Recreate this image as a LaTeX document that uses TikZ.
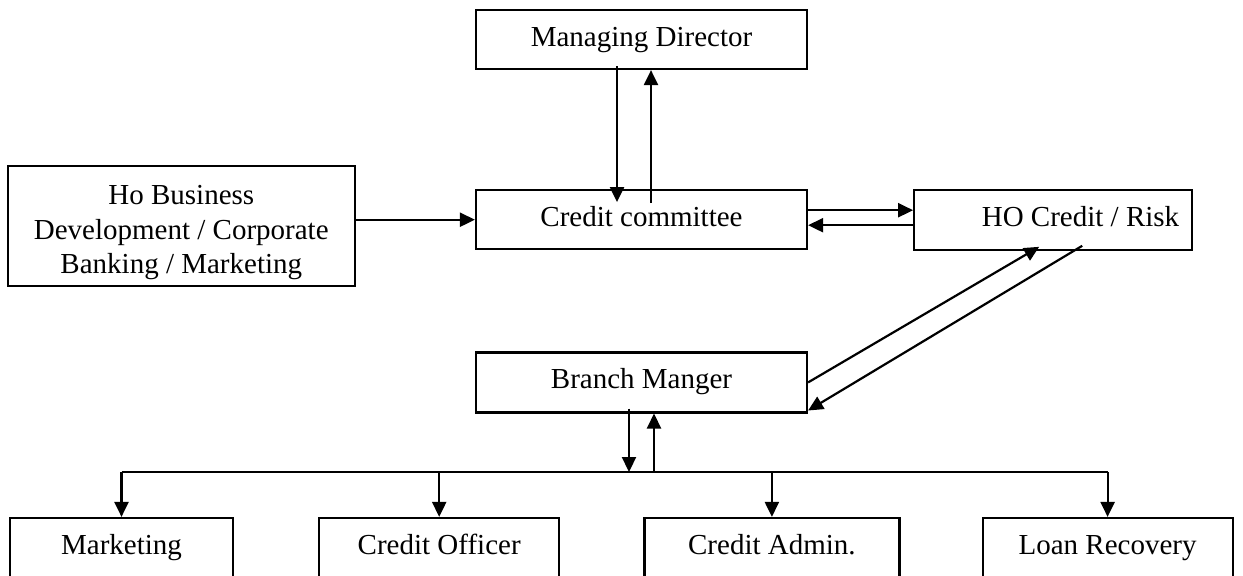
\documentclass[tikz,border=0pt]{standalone}
\usepackage{fontspec}
\setmainfont{Liberation Serif}
\usetikzlibrary{arrows.meta,positioning}
\tikzset{
  orgbox/.style={draw, line width=1.1pt, align=center, minimum height=30pt,
    inner sep=3pt, font=\fontsize{14.5}{17.25}\selectfont},
  orgone/.style={orgbox, text height=10pt, text depth=3.5pt},
  orgarr/.style={-{Triangle[length=7.5pt,width=7pt]}, line width=1.1pt},
  orgbus/.style={line width=0.9pt}
}

\begin{document}
\begin{tikzpicture}[x=0.5pt, y=-0.5pt, node distance=59.5pt]
\useasboundingbox (0,0) rectangle (1243,575);
\clip (0,0) rectangle (1243,575);
\node[orgone, minimum width=165.5pt, minimum height=29.5pt] (md) at (641.5,39.5) {Managing Director};
\node[orgone, minimum width=165.5pt, minimum height=29.5pt, below=of md] (cc) {Credit committee};
\node[orgbox, minimum width=173.5pt, minimum height=60pt, left=of cc, yshift=-3.25pt] (hobd) {\rule{0pt}{16pt}Ho Business\\Development / Corporate\\Banking / Marketing};
\node[orgone, minimum width=139pt, text width=126pt, align=flush right, right=52.5pt of cc] (hocr) {HO Credit / Risk};
\node[orgone, minimum width=165.5pt, below=50.5pt of cc] (br) {Branch Manger};
\node[orgone, minimum width=111.5pt] (mkt) at (121.5,548) {Marketing};
\node[orgone, minimum width=120pt, right=42pt of mkt] (cof) {Credit Officer};
\node[orgone, minimum width=127.5pt, right=41.5pt of cof] (cad) {Credit Admin.};
\node[orgone, minimum width=125pt, right=40.5pt of cad] (lrc) {Loan Recovery};
\coordinate (bus) at (641.5,472);
% top part
\draw[orgarr] ([xshift=-12.25pt,yshift=2pt]md.south) -- ([xshift=-12.25pt,yshift=-6.5pt]cc.north);
\draw[orgarr] ([xshift=4.75pt,yshift=-7pt]cc.north) -- ([xshift=4.75pt]md.south);
\draw[orgarr] (hobd.east |- cc.west) -- (cc.west);
\draw[orgarr] ([yshift=4.75pt]cc.east) -- ([yshift=4.75pt]hocr.west);
\draw[orgarr] ([yshift=-2.75pt]hocr.west) -- ([yshift=-2.75pt]cc.east);
\draw[orgarr] (br.east) -- ([xshift=-7pt,yshift=2pt]hocr.south);
\draw[orgarr] ([xshift=14.5pt,yshift=2.5pt]hocr.south) -- ([yshift=1.5pt]br.south east);
% branch level
\draw[orgarr] ([xshift=-6.25pt,yshift=2.5pt]br.south) -- ([xshift=-6.25pt]bus);
\draw[orgarr] ([xshift=6.25pt]bus) -- ([xshift=6.25pt]br.south);
\draw[orgbus] (bus -| mkt.north) -- (bus -| lrc.north);
\foreach \n in {mkt,cof,cad,lrc}
  \draw[orgarr] (bus -| \n.north) -- (\n.north);
\end{tikzpicture}
\end{document}
